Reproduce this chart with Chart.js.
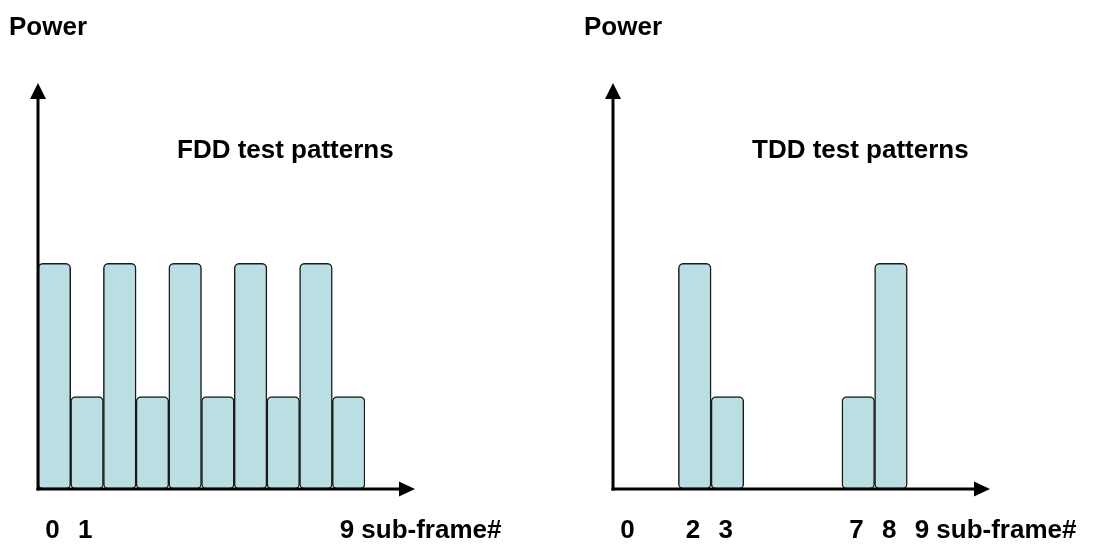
<!DOCTYPE html>
<html>
<head>
<meta charset="utf-8">
<script src="https://cdn.jsdelivr.net/npm/chart.js@4/dist/chart.umd.min.js"></script>
<style>
  html, body { margin: 0; padding: 0; background: #fff; }
  #wrap { position: relative; width: 1096px; height: 545px; }
  canvas { position: absolute; top: 0; }
  #fdd { left: 0; }
  #tdd { left: 548px; }
</style>
</head>
<body>
<div id="wrap">
  <canvas id="fdd" width="548" height="545"></canvas>
  <canvas id="tdd" width="548" height="545"></canvas>
</div>
<script>
const subFrames = ['0', '1', '2', '3', '4', '5', '6', '7', '8', '9'];
const fddTicks = ['0', '1', '', '', '', '', '', '', '', '9 sub-frame#'];
const tddTicks = ['0', '', '2', '3', '', '', '', '7', '8', '9 sub-frame#'];
const fddPower = [5, 2.05, 5, 2.05, 5, 2.05, 5, 2.05, 5, 2.05];
const tddPower = [null, null, 5, 2.05, null, null, null, 2.05, 5, null];
const powerMax = 9;
const yName = 'Power';
const fddTitle = 'FDD test patterns';
const tddTitle = 'TDD test patterns';

const FONT = '"Liberation Sans", Arial, sans-serif';

// axes with arrow heads, plus the free text
const sketch = {
  id: 'sketch',
  afterDatasetsDraw(chart, args, opts) {
    const { ctx } = chart;
    const { left, top, bottom } = chart.chartArea;
    ctx.save();
    ctx.strokeStyle = '#000';
    ctx.fillStyle = '#000';
    ctx.lineWidth = 3;

    ctx.beginPath();
    ctx.moveTo(left, bottom + 1.5);
    ctx.lineTo(left, top + 14);
    ctx.stroke();
    ctx.beginPath();
    ctx.moveTo(left, top);
    ctx.lineTo(left - 8, top + 16);
    ctx.lineTo(left + 8, top + 16);
    ctx.closePath();
    ctx.fill();

    const tip = left + 377;
    ctx.beginPath();
    ctx.moveTo(left - 1.5, bottom);
    ctx.lineTo(tip - 14, bottom);
    ctx.stroke();
    ctx.beginPath();
    ctx.moveTo(tip, bottom);
    ctx.lineTo(tip - 16, bottom - 7.5);
    ctx.lineTo(tip - 16, bottom + 7.5);
    ctx.closePath();
    ctx.fill();

    ctx.font = 'bold 26px ' + FONT;
    ctx.textAlign = 'left';
    ctx.textBaseline = 'alphabetic';
    ctx.fillText(yName, left - 29, 35);
    ctx.fillText(opts.title, left + 139, 158);
    ctx.restore();
  }
};

function makeChart(id, values, tickLabels, title, padLeft) {
  const canvas = document.getElementById(id);
  const chartWidth = 327;

  const data = {
    labels: subFrames,
    datasets: [
      {
        data: values,
        backgroundColor: '#b9dfe2',
        borderColor: '#1a1a1a',
        borderWidth: 1.5,
        borderRadius: 5,
        borderSkipped: false,
        barPercentage: 1,
        categoryPercentage: 1,
      },
    ],
  };

  const config = {
    type: 'bar',
    data,
    plugins: [sketch],
    options: {
      responsive: false,
      animation: false,
      layout: {
        padding: { left: padLeft, right: 548 - padLeft - chartWidth, top: 83, bottom: 0 },
      },
      plugins: {
        legend: { display: false },
        tooltip: { enabled: false },
        sketch: { title },
      },
      scales: {
        x: {
          grid: { display: false, drawTicks: false },
          border: { display: false },
          ticks: {
            autoSkip: false,
            maxRotation: 0,
            minRotation: 0,
            align: 'start',
            labelOffset: -9,
            padding: 29,
            color: '#000',
            font: { family: FONT, size: 26, weight: 'bold', lineHeight: 1 },
            callback: (value, index) => tickLabels[index],
          },
          afterFit: (scale) => {
            scale.paddingLeft = 0;
            scale.paddingRight = 0;
            scale.height = 56;
          },
        },
        y: {
          display: false,
          min: 0,
          max: powerMax,
        },
      },
    },
  };

  return new Chart(canvas, config);
}

makeChart('fdd', fddPower, fddTicks, fddTitle, 38);
makeChart('tdd', tddPower, tddTicks, tddTitle, 65);
</script>
</body>
</html>
